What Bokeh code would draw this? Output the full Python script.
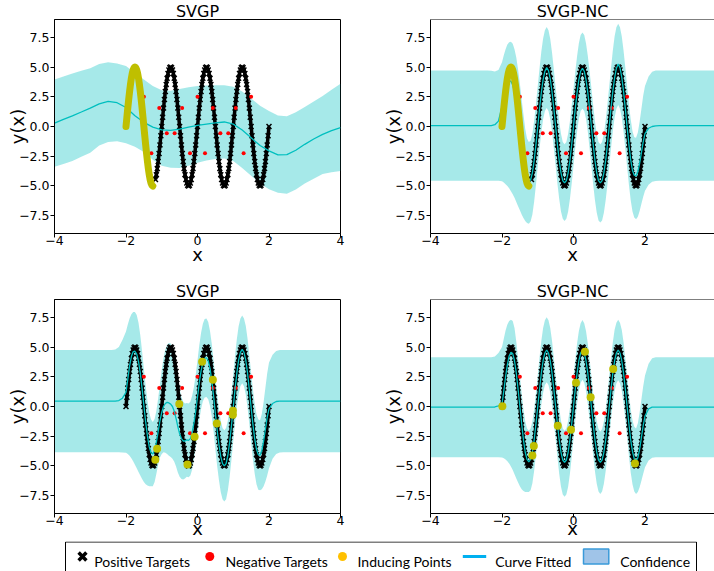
from bokeh.plotting import figure
from bokeh.layouts import column, row
from bokeh.models import FixedTicker, Span, Range1d
from bokeh.core.properties import value
from bokeh.embed import file_html
from bokeh.resources import INLINE

# ---------------- data ----------------
X_TGT = [round(-2.0 + 0.025 * i, 3) for i in range(161)]
Y_TGT = [
    0.0, 0.78, 1.55, 2.27, 2.94, 3.54, 4.05, 4.46, 4.76, 4.94, 5.0, 4.94, 4.76, 4.46, 4.05, 3.54, 2.94, 2.27, 1.55, 0.78,
    0.0, -0.78, -1.55, -2.27, -2.94, -3.54, -4.05, -4.46, -4.76, -4.94, -5.0, -4.94, -4.76, -4.46, -4.05, -3.54, -2.94, -2.27, -1.55, -0.78,
    0.0, 0.78, 1.55, 2.27, 2.94, 3.54, 4.05, 4.46, 4.76, 4.94, 5.0, 4.94, 4.76, 4.46, 4.05, 3.54, 2.94, 2.27, 1.55, 0.78,
    0.0, -0.78, -1.55, -2.27, -2.94, -3.54, -4.05, -4.46, -4.76, -4.94, -5.0, -4.94, -4.76, -4.46, -4.05, -3.54, -2.94, -2.27, -1.55, -0.78,
    0.0, 0.78, 1.55, 2.27, 2.94, 3.54, 4.05, 4.46, 4.76, 4.94, 5.0, 4.94, 4.76, 4.46, 4.05, 3.54, 2.94, 2.27, 1.55, 0.78,
    0.0, -0.78, -1.55, -2.27, -2.94, -3.54, -4.05, -4.46, -4.76, -4.94, -5.0, -4.94, -4.76, -4.46, -4.05, -3.54, -2.94, -2.27, -1.55, -0.78,
    0.0, 0.78, 1.55, 2.27, 2.94, 3.54, 4.05, 4.46, 4.76, 4.94, 5.0, 4.94, 4.76, 4.46, 4.05, 3.54, 2.94, 2.27, 1.55, 0.78,
    0.0, -0.78, -1.55, -2.27, -2.94, -3.54, -4.05, -4.46, -4.76, -4.94, -5.0, -4.94, -4.76, -4.46, -4.05, -3.54, -2.94, -2.27, -1.55, -0.78,
    0.0]
N_INIT_Z = 31        # top row: first target samples used as initial inducing points
TOP_TGT_START = 33   # top row: positive targets start here

NEG_X = [-1.5, -1.29, -1.07, -0.86, -0.64, -0.43, -0.21, 0.0, 0.21, 0.43, 0.64, 0.86, 1.07, 1.29, 1.5]
NEG_Y = [2.5, -2.25, 1.56, -0.56, -0.56, 1.56, -2.25, 2.5, -2.25, 1.56, -0.56, -0.56, 1.56, -2.25, 2.5]

# top-left SVGP fit (coarse grid)
X_TL = [round(-4.0 + 0.25 * i, 2) for i in range(33)]
TL_MEAN = [0.29, 0.6, 0.9, 1.22, 1.55, 1.9, 2.12, 2.0, 1.6, 0.9, 0.35, -0.05, -0.28, -0.33, -0.22, -0.05, 0.1,
           0.2, 0.3, 0.38, 0.2, -0.3, -0.95, -1.6, -2.05, -2.38, -2.36, -2.0, -1.5, -1.05, -0.66, -0.35, -0.1]
TL_UP = [3.96, 4.2, 4.45, 4.68, 4.9, 5.25, 5.4, 5.3, 5.08, 4.5, 3.95, 3.4, 3.05, 3.0, 3.15, 3.3, 3.4,
         3.45, 3.47, 3.48, 3.35, 2.95, 2.35, 1.75, 1.3, 0.92, 0.86, 1.2, 1.64, 2.1, 2.56, 3.1, 3.6]
TL_LO = [-3.38, -3.15, -2.9, -2.55, -2.2, -1.6, -1.3, -1.25, -1.4, -1.7, -2.15, -2.8, -3.3, -3.48, -3.5, -3.3, -3.04,
         -2.85, -2.74, -2.7, -2.9, -3.5, -4.15, -4.8, -5.28, -5.58, -5.66, -5.3, -4.8, -4.4, -4.0, -3.85, -3.74]

# grid for the other three fits
X_GP = ([-4.0, -3.5, -3.0, -2.75, -2.5, -2.4, -2.3, -2.2, -2.1]
        + [round(-2.0 + 0.05 * i, 2) for i in range(81)]
        + [2.1, 2.2, 2.3, 2.4, 2.5, 2.75, 3.0, 3.5, 4.0])

TR_MEAN = [0.07, 0.07, 0.07, 0.07, 0.07, 0.07, 0.08, 0.15, 0.45,
           1.7, 2.7, 3.45, 3.8, 3.85, 3.8, 3.5, 2.9, 2.1, 1.1,
           0.0, -1.2, -2.4, -3.5, -4.3, -4.6, -4.5, -3.9, -2.85, -1.5,
           0.0, 1.5, 2.85, 3.95, 4.65, 4.95, 4.7, 4.0, 2.9, 1.5,
           0.0, -1.5, -2.85, -3.9, -4.55, -4.75, -4.55, -3.9, -2.85, -1.5,
           0.0, 1.5, 2.85, 3.95, 4.65, 4.9, 4.65, 3.95, 2.85, 1.5,
           0.0, -1.5, -2.85, -3.9, -4.55, -4.75, -4.55, -3.9, -2.85, -1.5,
           0.0, 1.55, 2.95, 4.1, 4.9, 5.25, 4.95, 4.15, 2.95, 1.5,
           -0.05, -1.5, -2.8, -3.7, -4.1, -4.15, -3.8, -3.1, -2.2, -1.3,
           -0.6,
           -0.15, 0.0, 0.05, 0.07, 0.07, 0.07, 0.07, 0.07, 0.07]
TR_UP = [4.7, 4.7, 4.7, 4.7, 4.7, 4.7, 4.68, 4.62, 4.75,
         5.4, 6.0, 6.5, 6.9, 7.08, 7.12, 6.95, 6.5, 5.8, 4.8,
         3.6, 2.3, 1.0, -0.2, -1.0, -1.3, -1.2, -0.6, 0.5, 1.9,
         3.4, 4.9, 6.3, 7.4, 8.1, 8.36, 8.1, 7.35, 6.2, 4.8,
         3.3, 1.8, 0.45, -0.6, -1.3, -1.5, -1.3, -0.6, 0.45, 1.8,
         3.2, 4.6, 5.9, 7.0, 7.7, 7.9, 7.7, 7.0, 5.95, 4.65,
         3.25, 1.8, 0.45, -0.6, -1.3, -1.5, -1.3, -0.6, 0.5, 1.9,
         3.4, 4.95, 6.4, 7.6, 8.35, 8.64, 8.35, 7.6, 6.4, 4.95,
         3.4, 1.9, 0.6, -0.4, -0.9, -0.95, -0.5, 0.4, 1.5, 2.6,
         3.4,
         4.2, 4.6, 4.7, 4.7, 4.7, 4.7, 4.7, 4.7, 4.7]
TR_LO = [-4.57, -4.57, -4.57, -4.57, -4.57, -4.57, -4.57, -4.57, -4.57,
         -4.6, -4.7, -4.85, -5.0, -5.2, -5.45, -5.7, -6.0, -6.35, -6.7,
         -7.05, -7.4, -7.7, -7.95, -8.12, -8.17, -8.0, -7.4, -6.3, -4.9,
         -3.35, -1.85, -0.5, 0.6, 1.3, 1.55, 1.3, 0.6, -0.45, -1.85,
         -3.3, -4.8, -6.1, -7.15, -7.75, -7.94, -7.75, -7.15, -6.1, -4.8,
         -3.3, -1.8, -0.45, 0.65, 1.3, 1.5, 1.3, 0.65, -0.45, -1.85,
         -3.35, -4.85, -6.2, -7.25, -7.9, -8.08, -7.9, -7.25, -6.2, -4.85,
         -3.35, -1.8, -0.4, 0.75, 1.5, 1.8, 1.5, 0.75, -0.45, -1.9,
         -3.4, -4.9, -6.2, -7.15, -7.65, -7.8, -7.6, -7.1, -6.5, -5.9,
         -5.4,
         -4.9, -4.65, -4.58, -4.57, -4.57, -4.57, -4.57, -4.57, -4.57]

BL_MEAN = [0.45, 0.45, 0.45, 0.45, 0.45, 0.45, 0.46, 0.5, 0.7,
           1.2, 2.3, 3.4, 4.2, 4.6, 4.65, 4.4, 3.8, 2.8, 1.5,
           0.1, -1.3, -2.5, -3.4, -3.9, -4.0, -3.7, -3.0, -2.1, -1.2,
           -0.5, 0.0, 0.25, 0.35, 0.3, 0.2, 0.0, -0.4, -1.0, -1.7,
           -2.3, -2.7, -2.9, -2.9, -2.8, -2.85, -2.7, -2.2, -1.4, -0.4,
           0.8, 2.0, 3.0, 3.7, 4.05, 4.1, 3.85, 3.2, 2.2, 0.9,
           -0.6, -2.0, -3.2, -4.2, -4.8, -5.0, -4.8, -4.1, -3.0, -1.6,
           -0.1, 1.45, 2.8, 3.9, 4.55, 4.8, 4.55, 3.9, 2.8, 1.4,
           -0.1, -1.5, -2.7, -3.6, -4.05, -4.1, -3.7, -2.9, -1.9, -0.9,
           -0.2,
           0.25, 0.42, 0.45, 0.45, 0.45, 0.45, 0.45, 0.45, 0.45]
BL_UP = [4.75, 4.75, 4.75, 4.75, 4.75, 4.75, 4.8, 5.0, 5.6,
         6.3, 6.9, 7.4, 7.75, 7.95, 7.95, 7.7, 7.05, 6.0, 4.65,
         3.2, 1.75, 0.5, -0.5, -1.1, -1.3, -1.05, -0.35, 0.7, 1.9,
         3.1, 4.1, 4.8, 5.2, 5.35, 5.3, 5.0, 4.4, 3.5, 2.5,
         1.5, 0.8, 0.4, 0.25, 0.3, 0.25, 0.4, 0.9, 1.65, 2.65,
         3.9, 5.15, 6.2, 6.95, 7.35, 7.4, 7.1, 6.35, 5.25, 3.9,
         2.4, 1.0, -0.2, -1.2, -1.8, -2.0, -1.8, -1.15, -0.1, 1.25,
         2.75, 4.3, 5.65, 6.75, 7.4, 7.65, 7.4, 6.8, 5.7, 4.3,
         2.85, 1.45, 0.25, -0.65, -1.1, -1.15, -0.6, 0.4, 1.6, 2.8,
         3.7,
         4.35, 4.67, 4.75, 4.75, 4.75, 4.75, 4.75, 4.75, 4.75]
BL_LO = [-3.85, -3.85, -3.85, -3.85, -3.85, -3.85, -3.85, -3.85, -3.87,
         -3.9, -4.0, -4.15, -4.35, -4.6, -4.9, -5.2, -5.5, -5.8, -6.1,
         -6.35, -6.55, -6.65, -6.7, -6.7, -6.7, -6.35, -5.65, -4.9, -4.3,
         -4.0, -3.85, -3.9, -4.0, -4.15, -4.25, -4.4, -4.65, -5.05, -5.55,
         -5.9, -6.1, -6.15, -6.05, -5.9, -5.95, -5.8, -5.3, -4.45, -3.45,
         -2.3, -1.15, -0.2, 0.45, 0.75, 0.8, 0.6, 0.05, -0.85, -2.1,
         -3.6, -5.0, -6.2, -7.2, -7.8, -8.0, -7.8, -7.05, -5.9, -4.45,
         -2.95, -1.4, -0.05, 1.05, 1.7, 1.95, 1.7, 1.0, -0.1, -1.5,
         -3.05, -4.45, -5.65, -6.55, -7.0, -7.05, -6.95, -6.7, -6.3, -5.8,
         -5.2,
         -4.4, -4.0, -3.87, -3.85, -3.85, -3.85, -3.85, -3.85, -3.85]

BR_MEAN = [-0.05, -0.05, -0.05, -0.05, -0.05, -0.05, -0.05, -0.04, 0.05,
           0.2, 1.3, 2.5, 3.5, 4.25, 4.55, 4.45, 3.85, 2.8, 1.45,
           0.0, -1.45, -2.8, -3.85, -4.45, -4.65, -4.45, -3.85, -2.8, -1.45,
           0.0, 1.45, 2.8, 3.85, 4.5, 4.75, 4.5, 3.85, 2.8, 1.45,
           0.0, -1.45, -2.8, -3.85, -4.5, -4.7, -4.5, -3.85, -2.8, -1.45,
           0.0, 1.45, 2.8, 3.85, 4.5, 4.75, 4.5, 3.85, 2.8, 1.45,
           0.0, -1.45, -2.8, -3.85, -4.5, -4.7, -4.5, -3.85, -2.8, -1.45,
           0.0, 1.45, 2.8, 3.85, 4.5, 4.75, 4.5, 3.85, 2.8, 1.45,
           0.0, -1.45, -2.8, -3.8, -4.4, -4.6, -4.3, -3.6, -2.6, -1.6,
           -0.8,
           -0.2, -0.06, -0.05, -0.05, -0.05, -0.05, -0.05, -0.05, -0.05]
BR_UP = [4.15, 4.15, 4.15, 4.15, 4.15, 4.15, 4.15, 4.2, 4.5,
         5.0, 5.7, 6.4, 6.9, 7.2, 7.3, 7.2, 6.6, 5.45, 4.05,
         2.6, 1.15, -0.2, -1.25, -1.85, -2.05, -1.85, -1.25, -0.2, 1.2,
         2.65, 4.15, 5.5, 6.6, 7.25, 7.5, 7.25, 6.6, 5.5, 4.1,
         2.65, 1.2, -0.15, -1.2, -1.85, -2.05, -1.85, -1.2, -0.15, 1.15,
         2.6, 4.0, 5.3, 6.35, 7.0, 7.27, 7.0, 6.35, 5.3, 4.0,
         2.6, 1.15, -0.2, -1.25, -1.9, -2.1, -1.9, -1.25, -0.2, 1.15,
         2.6, 4.05, 5.4, 6.45, 7.05, 7.3, 7.05, 6.45, 5.4, 4.05,
         2.6, 1.15, -0.2, -1.15, -1.7, -1.85, -1.4, -0.5, 0.6, 1.7,
         2.6,
         3.6, 4.05, 4.15, 4.15, 4.15, 4.15, 4.15, 4.15, 4.15]
BR_LO = [-4.27, -4.27, -4.27, -4.27, -4.27, -4.27, -4.27, -4.27, -4.27,
         -4.3, -4.35, -4.45, -4.6, -4.8, -5.05, -5.35, -5.7, -6.05, -6.4,
         -6.7, -6.95, -7.1, -7.2, -7.2, -7.2, -7.05, -6.45, -5.4, -4.05,
         -2.65, -1.2, 0.15, 1.15, 1.8, 2.05, 1.8, 1.15, 0.1, -1.3,
         -2.75, -4.25, -5.65, -6.75, -7.4, -7.6, -7.4, -6.75, -5.65, -4.25,
         -2.75, -1.2, 0.2, 1.3, 2.0, 2.25, 2.0, 1.3, 0.2, -1.15,
         -2.6, -4.1, -5.45, -6.5, -7.15, -7.35, -7.15, -6.5, -5.45, -4.1,
         -2.6, -1.1, 0.25, 1.3, 1.95, 2.2, 1.95, 1.3, 0.25, -1.15,
         -2.65, -4.15, -5.55, -6.55, -7.15, -7.35, -7.2, -6.8, -6.25, -5.65,
         -5.1,
         -4.55, -4.32, -4.27, -4.27, -4.27, -4.27, -4.27, -4.27, -4.27]

BL_Z_X = [-1.18, -1.13, -0.51, -0.28, -0.08, 0.13, 0.43, 0.54, 0.99, 0.99]
BL_Z_Y = [-4.47, -3.55, 0.21, -4.88, -2.54, 3.77, 2.25, -1.42, -0.35, -0.7]
BR_Z_X = [-1.99, -1.15, -1.11, -0.44, -0.07, 0.07, 0.32, 0.48, 1.11, 1.72]
BR_Z_Y = [0.03, -4.13, -3.32, -1.61, -1.95, 2.0, 4.6, 0.77, 3.15, -4.8]

X_TICKS = [-4, -2, 0, 2, 4]
Y_TICKS = [-7.5, -5.0, -2.5, 0.0, 2.5, 5.0, 7.5]
TITLES = ["SVGP", "SVGP-NC", "SVGP", "SVGP-NC"]
LEGEND_LABELS = ["Positive Targets", "Negative Targets", "Inducing Points", "Curve Fitted", "Confidence"]

# ---------------- style ----------------
FONT = "DejaVu Sans"
CYAN = "#00bfbf"
OLIVE = "#bfbf00"


def tick_text(v, fmt):
    return fmt.format(v).replace("-", "\u2212")


def panel(width, height, x_end, top, bottom, right, title, full_frame, x_std):
    p = figure(width=width, height=height, x_range=Range1d(-4, x_end), y_range=Range1d(-9, 9),
               output_backend="svg", toolbar_location=None, title=title,
               min_border_left=54, min_border_right=right, min_border_top=top, min_border_bottom=bottom)
    p.title.text_font = FONT
    p.title.text_font_size = "16px"
    p.title.text_font_style = "normal"
    p.title.text_color = "black"
    p.title.align = "center"
    p.title.standoff = -2
    p.xgrid.visible = False
    p.ygrid.visible = False
    for ax in (p.xaxis[0], p.yaxis[0]):
        ax.axis_line_color = "black"
        ax.major_tick_line_color = "black"
        ax.major_tick_out = 4
        ax.major_tick_in = 0
        ax.minor_tick_line_color = None
        ax.major_label_text_font = FONT
        ax.major_label_text_font_size = "12.5px"
        ax.major_label_text_color = "black"
        ax.axis_label_text_font = FONT
        ax.axis_label_text_font_size = "18px"
        ax.axis_label_text_font_style = "normal"
        ax.axis_label_text_color = "black"
    p.xaxis.axis_label = "x"
    p.yaxis.axis_label = "y(x)"
    p.xaxis.ticker = FixedTicker(ticks=X_TICKS)
    p.xaxis.major_label_overrides = {t: tick_text(t, "{:d}") for t in X_TICKS}
    p.yaxis.ticker = FixedTicker(ticks=Y_TICKS)
    p.yaxis.major_label_overrides = {t: tick_text(t, "{:.1f}") for t in Y_TICKS}
    p.xaxis.major_label_standoff = -2
    p.xaxis.axis_label_standoff = x_std
    p.yaxis.major_label_standoff = 1
    p.yaxis.axis_label_standoff = -12
    if full_frame:
        p.outline_line_color = "black"
        p.outline_line_alpha = 1.0
    else:
        p.outline_line_color = None
        p.add_layout(Span(location=9, dimension="width", line_color="black", line_width=1))
    return p


def draw(p, xg, mean, up, lo, tx, ty, zx, zy, z_as_line):
    p.varea(x=xg, y1=lo, y2=up, fill_color=CYAN, fill_alpha=0.35)
    p.line(tx, ty, line_color="black", line_width=3.5)
    p.scatter(tx, ty, marker="x", size=7, line_color="black", line_width=1.5)
    p.scatter(NEG_X, NEG_Y, marker="circle", size=4, fill_color="#ff0000", line_color=None)
    p.line(xg, mean, line_color=CYAN, line_width=1.3)
    if z_as_line:
        p.line(zx, zy, line_color=OLIVE, line_width=7, line_cap="round", line_join="round")
    else:
        p.scatter(zx, zy, marker="circle", size=8, fill_color=OLIVE, line_color=None)


X_END_R = -4 + 284 * 8 / 286

tl = panel(376, 277, 4, 19, 44, 36, TITLES[0], True, -4)
tr = panel(338, 277, X_END_R, 19, 44, 0, TITLES[1], False, -4)
bl = panel(376, 264, 4, 22, 28, 36, TITLES[2], True, -10)
br = panel(338, 264, X_END_R, 22, 28, 0, TITLES[3], False, -10)

draw(tl, X_TL, TL_MEAN, TL_UP, TL_LO, X_TGT[TOP_TGT_START:], Y_TGT[TOP_TGT_START:],
     X_TGT[:N_INIT_Z], Y_TGT[:N_INIT_Z], True)
draw(tr, X_GP, TR_MEAN, TR_UP, TR_LO, X_TGT[TOP_TGT_START:], Y_TGT[TOP_TGT_START:],
     X_TGT[:N_INIT_Z], Y_TGT[:N_INIT_Z], True)
draw(bl, X_GP, BL_MEAN, BL_UP, BL_LO, X_TGT, Y_TGT, BL_Z_X, BL_Z_Y, False)
draw(br, X_GP, BR_MEAN, BR_UP, BR_LO, X_TGT, Y_TGT, BR_Z_X, BR_Z_Y, False)

# ---------------- legend strip (1 unit = 1 px, y measured upward from strip bottom) ----------------
LG_H = 30
lg = figure(width=714, height=LG_H, x_range=Range1d(0, 714), y_range=Range1d(0, LG_H), title=None,
            output_backend="svg", toolbar_location=None, min_border=0,
            x_axis_location=None, y_axis_location=None)
lg.xgrid.visible = False
lg.ygrid.visible = False
lg.outline_line_color = None
ROW_Y = LG_H - 15.0          # centre line of legend entries
lg.quad(left=[65], right=[696], bottom=[-10], top=[LG_H - 0.5], fill_color=None,
        line_color="black", line_width=1)
lg.scatter([82], [ROW_Y], marker="x", size=11, line_color="black", line_width=3.5)
lg.scatter([209.3], [ROW_Y], marker="circle", size=9, fill_color="#ff0000", line_color=None)
lg.scatter([342], [ROW_Y], marker="circle", size=9, fill_color="#ffc000", line_color=None)
lg.line([462.3, 485.7], [ROW_Y, ROW_Y], line_color="#00b0f0", line_width=3)
lg.quad(left=[583], right=[608.3], bottom=[ROW_Y - 7.5], top=[ROW_Y + 7.5], fill_color="#a0c4e8",
        line_color="#3a9ad9", line_width=1.5)
lg.text(x=[93.7, 225, 357, 494.7, 619.7], y=[ROW_Y - 4.5] * 5, text=LEGEND_LABELS,
        text_font=value("Lato"), text_font_size="14px", text_baseline="alphabetic",
        text_align="left", text_color="black")

layout = column(row(tl, tr), row(bl, br), lg)
open("out.html", "w").write(file_html(layout, INLINE))
